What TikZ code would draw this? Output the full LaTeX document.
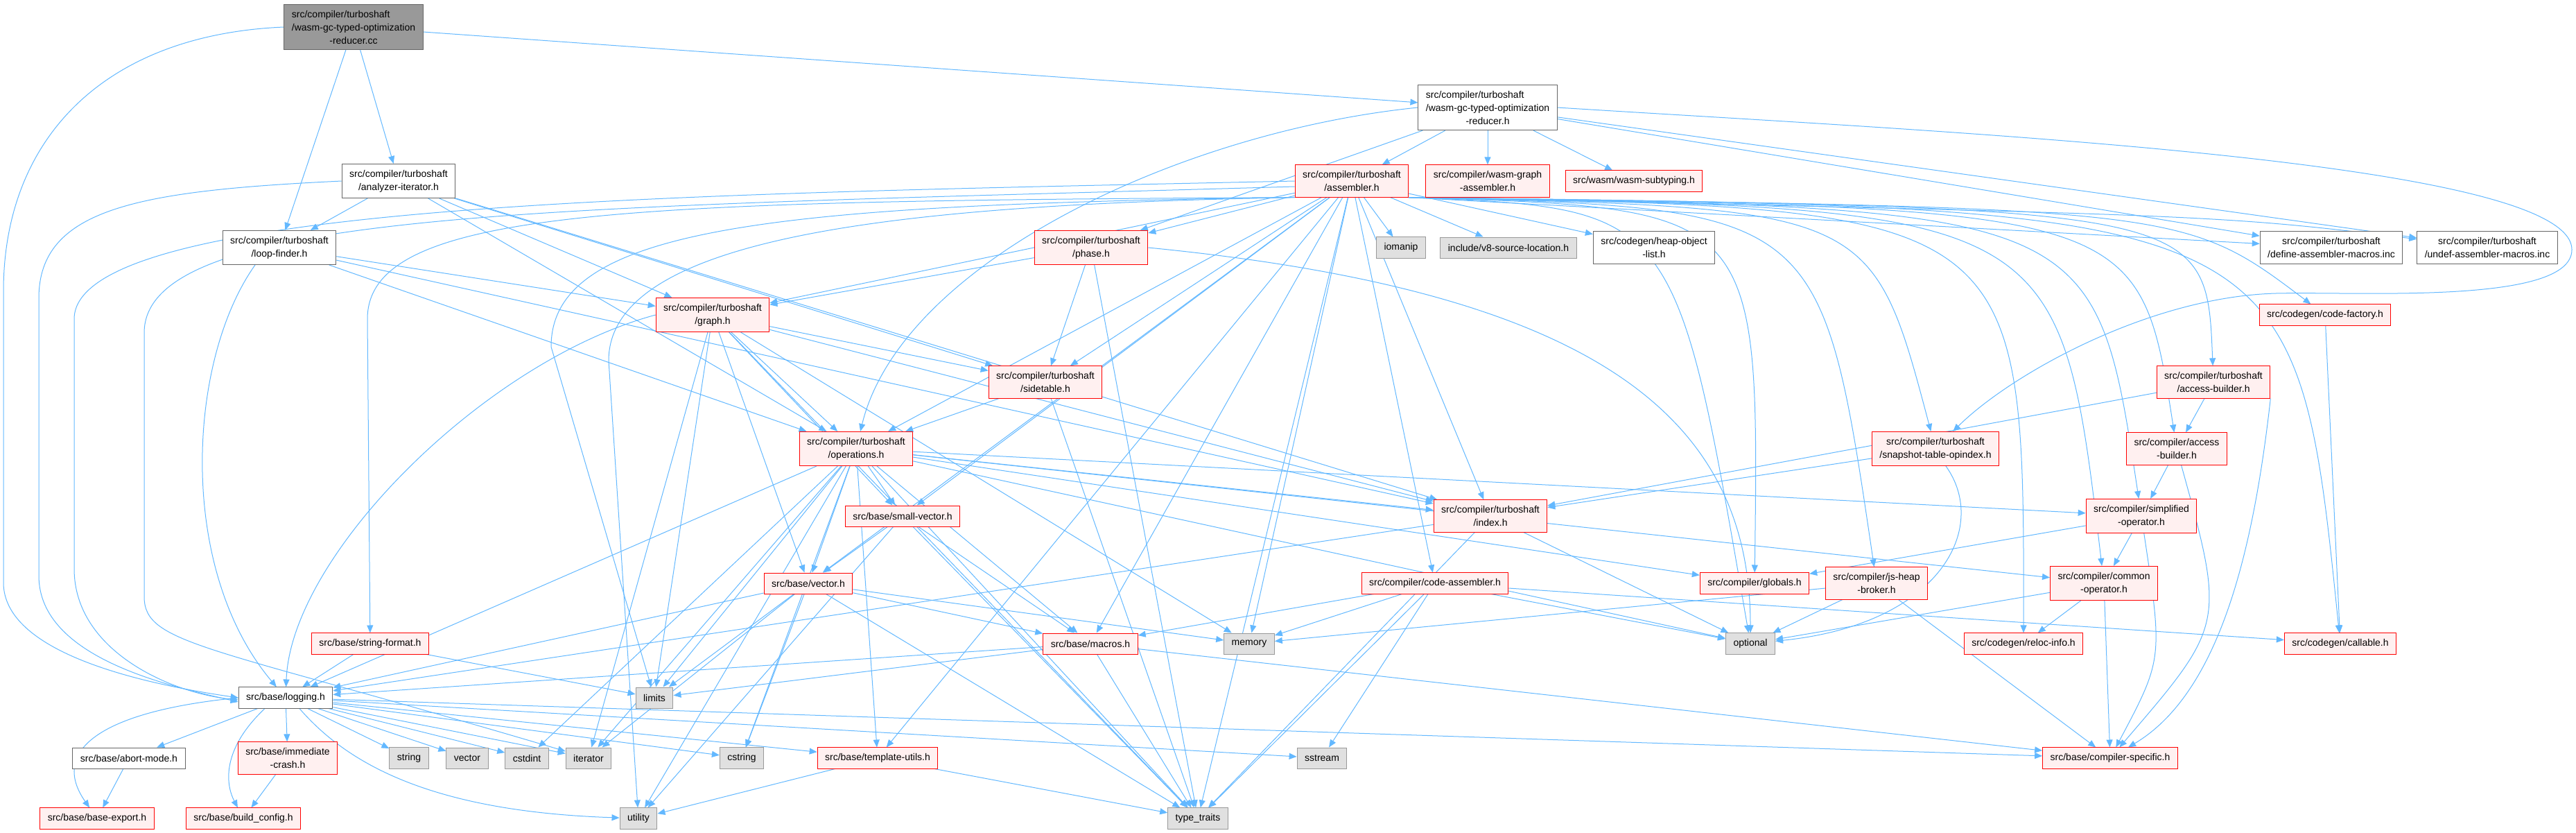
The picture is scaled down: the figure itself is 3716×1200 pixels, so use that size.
\documentclass[tikz,border=0pt]{standalone}
\usepackage{fontspec}
\setmainfont{Liberation Sans}
\usepackage{tikz}
\usetikzlibrary{arrows.meta, backgrounds}

\definecolor{edgeblue}{HTML}{63B8FF}
\definecolor{redfill}{HTML}{FFF0F0}
\definecolor{sysfill}{HTML}{E0E0E0}
\definecolor{sysborder}{HTML}{999999}
\definecolor{rootfill}{HTML}{999999}
\definecolor{rootborder}{HTML}{666666}

\begin{document}
\begin{tikzpicture}[
    x=1pt, y=-1pt,
    file/.style={rectangle, line width=1pt, inner xsep=11pt, inner ysep=8.5pt, minimum height=30pt, align=center, font=\fontsize{14}{19}\selectfont},
    rootfile/.style={file, draw=rootborder, fill=rootfill},
    plainfile/.style={file, draw=rootborder, fill=white},
    redfile/.style={file, draw=red, fill=redfill},
    sysfile/.style={file, draw=sysborder, fill=sysfill},
    arrow/.style={line width=1pt, edgeblue, -{Triangle[length=11pt, width=9pt]}},
]
\useasboundingbox (0,0) rectangle (3716,1200);

    % Source file and reducer header
    \node (cc) [rootfile] at (510,39) {\rlap{src/compiler/turboshaft}\phantom{/wasm-gc-typed-optimization}\\/wasm-gc-typed-optimization\\-reducer.cc};
    \node (reducer) [plainfile] at (2146,155) {\rlap{src/compiler/turboshaft}\phantom{/wasm-gc-typed-optimization}\\/wasm-gc-typed-optimization\\-reducer.h};

    % Turboshaft headers
    \node (analyzer) [plainfile] at (575,261) {src/compiler/turboshaft\\/analyzer-iterator.h};
    \node (assembler) [redfile] at (1950,261) {src/compiler/turboshaft\\/assembler.h};
    \node (wasmgraph) [redfile] at (2146,261) {src/compiler/wasm-graph\\-assembler.h};
    \node (subtyping) [redfile] at (2357,261) {src/wasm/wasm-subtyping.h};
    \node (loopfinder) [plainfile] at (403,357) {src/compiler/turboshaft\\/loop-finder.h};
    \node (phase) [redfile] at (1574,357) {src/compiler/turboshaft\\/phase.h};
    \node (iomanip) [sysfile] at (2021,357) {iomanip};
    \node (srcloc) [sysfile] at (2176,357) {include/v8-source-location.h};
    \node (heapobj) [plainfile] at (2386,357) {src/codegen/heap-object\\-list.h};
    \node (defmacros) [plainfile] at (3363,357) {src/compiler/turboshaft\\/define-assembler-macros.inc};
    \node (undefmacros) [plainfile] at (3588,357) {src/compiler/turboshaft\\/undef-assembler-macros.inc};
    \node (graph) [redfile] at (1028,454) {src/compiler/turboshaft\\/graph.h};
    \node (codefactory) [redfile] at (3354,454) {src/codegen/code-factory.h};
    \node (sidetable) [redfile] at (1508,551) {src/compiler/turboshaft\\/sidetable.h};
    \node (tsaccess) [redfile] at (3193,551) {src/compiler/turboshaft\\/access-builder.h};
    \node (operations) [redfile] at (1235,647) {src/compiler/turboshaft\\/operations.h};
    \node (snapshot) [redfile] at (2792,647) {src/compiler/turboshaft\\/snapshot-table-opindex.h};
    \node (access) [redfile] at (3140,647) {src/compiler/access\\-builder.h};
    \node (smallvec) [redfile] at (1302,744) {src/base/small-vector.h};
    \node (index) [redfile] at (2150,744) {src/compiler/turboshaft\\/index.h};
    \node (simplified) [redfile] at (3089,744) {src/compiler/simplified\\-operator.h};

    % Compiler and base headers
    \node (basevector) [redfile] at (1166,841) {src/base/vector.h};
    \node (codeasm) [redfile] at (2070,841) {src/compiler/code-assembler.h};
    \node (globals) [redfile] at (2531,841) {src/compiler/globals.h};
    \node (broker) [redfile] at (2707,841) {src/compiler/js-heap\\-broker.h};
    \node (common) [redfile] at (3035,841) {src/compiler/common\\-operator.h};
    \node (strformat) [redfile] at (534,928) {src/base/string-format.h};
    \node (macros) [redfile] at (1573,928) {src/base/macros.h};
    \node (memory) [sysfile] at (1802,928) {memory};
    \node (optional) [sysfile] at (2525,928) {optional};
    \node (relocinfo) [redfile] at (2919,928) {src/codegen/reloc-info.h};
    \node (callable) [redfile] at (3376,928) {src/codegen/callable.h};
    \node (logging) [plainfile] at (412,1006) {src/base/logging.h};
    \node (limits) [sysfile] at (944,1006) {limits};

    % Leaves
    \node (abortmode) [plainfile] at (186,1093) {src/base/abort-mode.h};
    \node (crash) [redfile] at (415,1093) {src/base/immediate\\-crash.h};
    \node (string) [sysfile] at (590,1093) {string};
    \node (vector) [sysfile] at (674,1093) {vector};
    \node (cstdint) [sysfile] at (760,1093) {cstdint};
    \node (iterator) [sysfile] at (849,1093) {iterator};
    \node (cstring) [sysfile] at (1070,1093) {cstring};
    \node (templutils) [redfile] at (1266,1093) {src/base/template-utils.h};
    \node (sstream) [sysfile] at (1907,1093) {sstream};
    \node (compspec) [redfile] at (3044,1093) {src/base/compiler-specific.h};
    \node (baseexport) [redfile] at (140,1180) {src/base/base-export.h};
    \node (buildcfg) [redfile] at (351,1180) {src/base/build\_config.h};
    \node (utility) [sysfile] at (921,1180) {utility};
    \node (typetraits) [sysfile] at (1728,1180) {type\_traits};

\begin{scope}[on background layer]
    % .cc file
    \draw [arrow] (cc) -- (reducer);
    \draw [arrow] (cc) -- (analyzer);
    \draw [arrow] (cc) -- (loopfinder);
    \draw [arrow] (cc.west) .. controls (150,50) and (5,200) .. (5,420) -- (5,840) .. controls (5,940) and (200,985) .. (logging.west);

    % reducer.h
    \draw [arrow] (reducer) -- (assembler);
    \draw [arrow] (reducer) -- (wasmgraph);
    \draw [arrow] (reducer) -- (subtyping);
    \draw [arrow] (reducer) -- (phase);
    \draw [arrow] (reducer.west) .. controls (1700,190) and (1300,380) .. (operations);
    \draw [arrow] (reducer) -- (defmacros);
    \draw [arrow] (reducer) -- (undefmacros);
    \draw [arrow] (reducer.east) .. controls (2800,190) and (3710,230) .. (3710,360) .. controls (3710,440) and (3400,420) .. (3283,423) .. controls (3100,428) and (2900,540) .. (snapshot);

    % analyzer-iterator.h
    \draw [arrow] (analyzer) -- (loopfinder);
    \draw [arrow] (analyzer) -- (graph);
    \draw [arrow] (analyzer) -- (operations);
    \draw [arrow] (analyzer) -- (sidetable);
    \draw [arrow] (analyzer) -- (index);
    \draw [arrow] (analyzer.west) .. controls (200,275) and (56,300) .. (56,430) -- (56,830) .. controls (56,950) and (250,990) .. ([yshift=-6pt]logging.west);

    % loop-finder.h
    \draw [arrow] (loopfinder) -- (graph);
    \draw [arrow] (loopfinder) -- (operations);
    \draw [arrow] (loopfinder) -- (index);
    \draw [arrow] ([xshift=-35pt]loopfinder.south) .. controls (270,520) and (255,820) .. (logging);

    % assembler.h
    \draw [arrow] (assembler) -- (phase);
    \draw [arrow] (assembler) -- (graph);
    \draw [arrow] (assembler) -- (sidetable);
    \draw [arrow] (assembler) -- (operations);
    \draw [arrow] (assembler) -- (smallvec);
    \draw [arrow] (assembler) -- (basevector);
    \draw [arrow] (assembler) -- (macros);
    \draw [arrow] (assembler) -- (templutils);
    \draw [arrow] (assembler) -- (memory);
    \draw [arrow] (assembler) -- (typetraits);
    \draw [arrow] (assembler) -- (index);
    \draw [arrow] (assembler) -- (codeasm);
    \draw [arrow] (assembler) -- (iomanip);
    \draw [arrow] (assembler) -- (srcloc);
    \draw [arrow] (assembler) -- (heapobj);
    \draw [arrow] (assembler.west) .. controls (1000,280) and (107,290) .. (107,460) -- (107,820) .. controls (107,940) and (250,1000) .. ([yshift=-3pt]logging.west);
    \draw [arrow] ([yshift=-8pt]assembler.west) .. controls (800,300) and (208,300) .. (208,480) -- (208,860) .. controls (208,930) and (300,930) .. (iterator);
    \draw [arrow] (assembler.south west) .. controls (900,290) and (530,300) .. (530,460) -- (strformat);
    \draw [arrow] (assembler.south west) .. controls (1100,295) and (795,330) .. (795,500) -- (limits);
    \draw [arrow] (assembler.south west) .. controls (1300,295) and (878,340) .. (878,520) -- (utility);
    \draw [arrow] (assembler.south east) -- (defmacros);
    \draw [arrow] (assembler.south east) .. controls (3200,310) .. (undefmacros);
    \draw [arrow] (assembler.south east) .. controls (3150,300) .. (codefactory);
    \draw [arrow] (assembler.south east) .. controls (3183,300) .. (tsaccess);
    \draw [arrow] (assembler.south east) .. controls (3086,300) .. (access);
    \draw [arrow] (assembler.south east) .. controls (3022,300) .. (simplified);
    \draw [arrow] (assembler.south east) .. controls (2971,300) .. (common);
    \draw [arrow] (assembler.south east) .. controls (2920,300) .. (relocinfo);
    \draw [arrow] (assembler.south east) .. controls (3312,300) .. (callable);
    \draw [arrow] (assembler.south east) .. controls (2700,300) .. (snapshot);
    \draw [arrow] (assembler.south east) .. controls (2627,300) .. (broker);
    \draw [arrow] (assembler.south east) .. controls (2538,300) .. (globals);
    \draw [arrow] (assembler.south east) .. controls (2417,300) .. (optional);

    % phase.h
    \draw [arrow] (phase) -- (graph);
    \draw [arrow] (phase) -- (sidetable);
    \draw [arrow] (phase) -- (typetraits);
    \draw [arrow] (phase.east) .. controls (2300,420) and (2525,600) .. (optional);

    % graph.h
    \draw [arrow] (graph.west) .. controls (700,520) and (420,800) .. (logging);
    \draw [arrow] (graph) -- (iterator);
    \draw [arrow] (graph) -- (limits);
    \draw [arrow] (graph) -- (basevector);
    \draw [arrow] (graph) -- (smallvec);
    \draw [arrow] (graph) -- (operations);
    \draw [arrow] (graph) -- (sidetable);
    \draw [arrow] (graph) -- (index);
    \draw [arrow] (graph) -- (memory);
    \draw [arrow] (graph) -- (typetraits);

    % sidetable.h
    \draw [arrow] (sidetable) -- (operations);
    \draw [arrow] (sidetable) -- (typetraits);

    % operations.h
    \draw [arrow] (operations) -- (logging);
    \draw [arrow] (operations) -- (limits);
    \draw [arrow] (operations) -- (cstdint);
    \draw [arrow] (operations) -- (iterator);
    \draw [arrow] (operations) -- (utility);
    \draw [arrow] (operations) -- (cstring);
    \draw [arrow] (operations) -- (smallvec);
    \draw [arrow] (operations) -- (basevector);
    \draw [arrow] (operations) -- (templutils);
    \draw [arrow] (operations) -- (macros);
    \draw [arrow] (operations) -- (typetraits);
    \draw [arrow] (operations) -- (optional);
    \draw [arrow] (operations) -- (index);
    \draw [arrow] (operations) -- (globals);
    \draw [arrow] (operations) -- (simplified);
    \draw [arrow] (operations) -- (common);

    % snapshot-table-opindex.h
    \draw [arrow] (snapshot) -- (index);
    \draw [arrow] ([xshift=15pt]snapshot.south) .. controls (2870,760) and (2800,900) .. (optional);

    % access builders and operators
    \draw [arrow] (tsaccess) -- (index);
    \draw [arrow] (tsaccess) -- (access);
    \draw [arrow] (tsaccess.south east) .. controls (3250,800) and (3200,1000) .. (compspec);
    \draw [arrow] (access) -- (simplified);
    \draw [arrow] (access) .. controls (3210,900) .. (compspec);
    \draw [arrow] (simplified) -- (globals);
    \draw [arrow] (simplified) -- (common);
    \draw [arrow] (simplified) .. controls (3120,950) .. (compspec);
    \draw [arrow] (common) -- (relocinfo);
    \draw [arrow] (common) -- (compspec);
    \draw [arrow] (common) -- (optional);
    \draw [arrow] (broker) -- (memory);
    \draw [arrow] (broker) -- (optional);
    \draw [arrow] (broker) -- (compspec);

    % code-assembler.h and code-factory.h
    \draw [arrow] (codeasm) -- (macros);
    \draw [arrow] (codeasm) -- (memory);
    \draw [arrow] (codeasm) -- (sstream);
    \draw [arrow] (codeasm) -- (typetraits);
    \draw [arrow] (codeasm) -- (optional);
    \draw [arrow] (codeasm) -- (callable);
    \draw [arrow] (codefactory) -- (callable);

    % index.h
    \draw [arrow] (index) -- (logging);
    \draw [arrow] (index) -- (typetraits);
    \draw [arrow] (index) -- (optional);

    % base headers
    \draw [arrow] (smallvec) -- (basevector);
    \draw [arrow] (smallvec) -- (macros);
    \draw [arrow] (smallvec) -- (utility);
    \draw [arrow] (smallvec) -- (typetraits);
    \draw [arrow] (basevector) -- (logging);
    \draw [arrow] (basevector) -- (limits);
    \draw [arrow] (basevector) -- (iterator);
    \draw [arrow] (basevector) -- (cstring);
    \draw [arrow] (basevector) -- (typetraits);
    \draw [arrow] (basevector) -- (macros);
    \draw [arrow] (basevector) -- (memory);
    \draw [arrow] (strformat) -- (logging);
    \draw [arrow] (strformat) -- (limits);
    \draw [arrow] (macros) -- (logging);
    \draw [arrow] (macros) -- (limits);
    \draw [arrow] (macros) -- (compspec);
    \draw [arrow] (macros) -- (typetraits);
    \draw [arrow] (templutils) -- (utility);
    \draw [arrow] (templutils) -- (typetraits);

    % logging.h
    \draw [arrow] (logging) -- (abortmode);
    \draw [arrow] (logging) -- (crash);
    \draw [arrow] (logging) -- (string);
    \draw [arrow] (logging) -- (vector);
    \draw [arrow] (logging) -- (cstdint);
    \draw [arrow] (logging) -- (iterator);
    \draw [arrow] (logging) -- (cstring);
    \draw [arrow] (logging) -- (templutils);
    \draw [arrow] (logging) -- (sstream);
    \draw [arrow] (logging) -- (compspec);
    \draw [arrow] ([xshift=20pt]logging.south) .. controls (500,1100) and (620,1170) .. (utility);
    \draw [arrow] (logging.west) .. controls (150,1025) and (70,1080) .. (baseexport);
    \draw [arrow] ([xshift=-30pt]logging.south) .. controls (320,1080) and (325,1130) .. (buildcfg);
    \draw [arrow] (abortmode) -- (baseexport);
    \draw [arrow] (crash) -- (buildcfg);
\end{scope}

\end{tikzpicture}
\end{document}
